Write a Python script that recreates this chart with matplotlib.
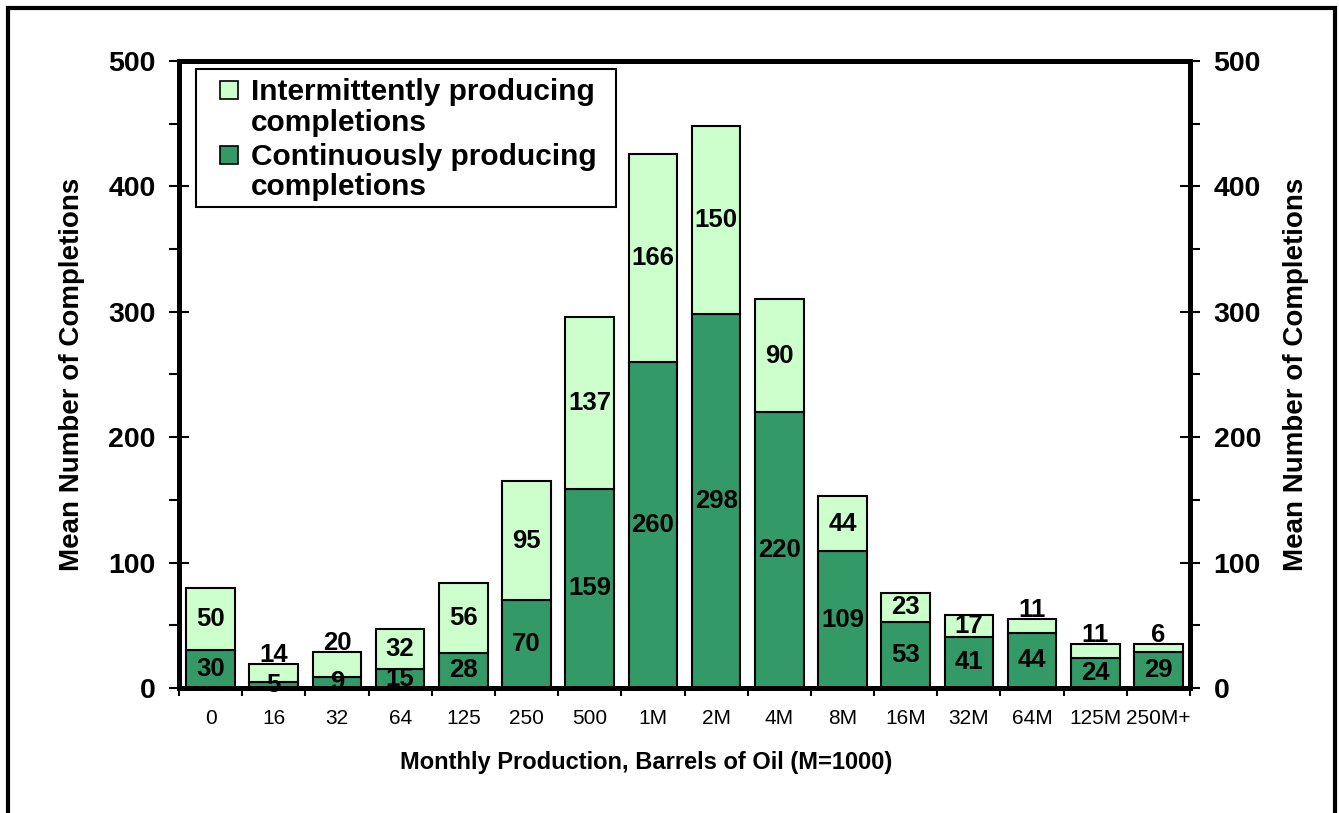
import matplotlib
matplotlib.use('Agg')
import matplotlib.pyplot as plt
from matplotlib.patches import Rectangle
import numpy as np

# data
categories = ['0', '16', '32', '64', '125', '250', '500', '1M', '2M', '4M',
              '8M', '16M', '32M', '64M', '125M', '250M+']
continuous = [30, 5, 9, 15, 28, 70, 159, 260, 298, 220, 109, 53, 41, 44, 24, 29]
intermittent = [50, 14, 20, 32, 56, 95, 137, 166, 150, 90, 44, 23, 17, 11, 11, 6]
legend_labels = ['Intermittently producing\ncompletions',
                 'Continuously producing\ncompletions']

LIGHT = '#CCFFCC'
DARK = '#339966'
W, H = 1339, 813

plt.rcParams['font.family'] = ['Liberation Sans', 'DejaVu Sans']


def fx(px):
    return px / W


def fy(py):
    return 1 - py / H


fig = plt.figure(figsize=(W / 100, H / 100), dpi=100)
ax = fig.add_axes([fx(179), fy(688), (1190 - 179) / W, (688 - 61) / H])

x = np.arange(len(categories))
ax.bar(x, continuous, width=0.77, color=DARK, edgecolor='black', linewidth=1.5)
ax.bar(x, intermittent, bottom=continuous, width=0.77, color=LIGHT,
       edgecolor='black', linewidth=1.5)

# value labels
for i, (c, s) in enumerate(zip(continuous, intermittent)):
    ax.text(i, c / 2, str(c), ha='center', va='center', fontsize=18.5,
            fontweight='bold')
    if s < 15 or c + s < 30:
        y = c + s + 7  # too small to fit, put above the bar
    else:
        y = c + s / 2
    ax.text(i, y, str(s), ha='center', va='center', fontsize=18.5,
            fontweight='bold')

ax.set_xlim(-0.5, len(categories) - 0.5)
ax.set_ylim(0, 500)
ax.set_xticks(x, categories)
ax.set_xticks(np.arange(-0.5, len(categories), 1), minor=True)
ax.tick_params(axis='x', which='major', length=0, labelsize=15, pad=15)
ax.tick_params(axis='x', which='minor', length=6, width=1.5, direction='out')

for a in [ax, ax.twinx()]:
    a.set_ylim(0, 500)
    a.set_yticks(range(0, 501, 100))
    a.set_yticks(range(50, 500, 100), minor=True)
    a.tick_params(axis='y', which='major', direction='inout', length=14,
                  width=1.5, labelsize=20.5, pad=10)
    a.tick_params(axis='y', which='minor', direction='out', length=7, width=1.5)
    for lbl in a.get_yticklabels():
        lbl.set_fontweight('bold')
    for sp in a.spines.values():
        sp.set_linewidth(3.6)
    a.set_ylabel('Mean Number of Completions', fontsize=20, fontweight='bold')
    ax2 = a

ax.yaxis.set_label_coords(-0.093, 0.5)
ax2.yaxis.set_label_coords(1.092, 0.5)
ax2.yaxis.label.set_rotation(90)

ax.set_xlabel('Monthly Production, Barrels of Oil (M=1000)', fontsize=17,
              fontweight='bold')
ax.xaxis.set_label_coords(0.462, -0.1)

# legend drawn by hand so the swatches line up with the first text line
fig.add_artist(Rectangle((fx(196), fy(207)), (616 - 196) / W, (207 - 69) / H,
                         transform=fig.transFigure, facecolor='white',
                         edgecolor='black', linewidth=1.5))
for label, color, sq_y, line_ys in zip(legend_labels, [LIGHT, DARK],
                                       [90, 155], [(92, 123), (157, 187)]):
    fig.add_artist(Rectangle((fx(220), fy(sq_y + 9)), 18 / W, 18 / H,
                             transform=fig.transFigure, facecolor=color,
                             edgecolor='black', linewidth=1.2))
    for line, ly in zip(label.split('\n'), line_ys):
        fig.text(fx(251), fy(ly), line, ha='left', va='center', fontsize=21.5,
                 fontweight='bold')

# outer frame (open at the bottom)
fig.add_artist(Rectangle((fx(8), -0.1), (1335 - 8) / W, fy(8) + 0.1,
                         transform=fig.transFigure, fill=False,
                         edgecolor='black', linewidth=3, clip_on=False))

fig.savefig('out.png', dpi=100)
